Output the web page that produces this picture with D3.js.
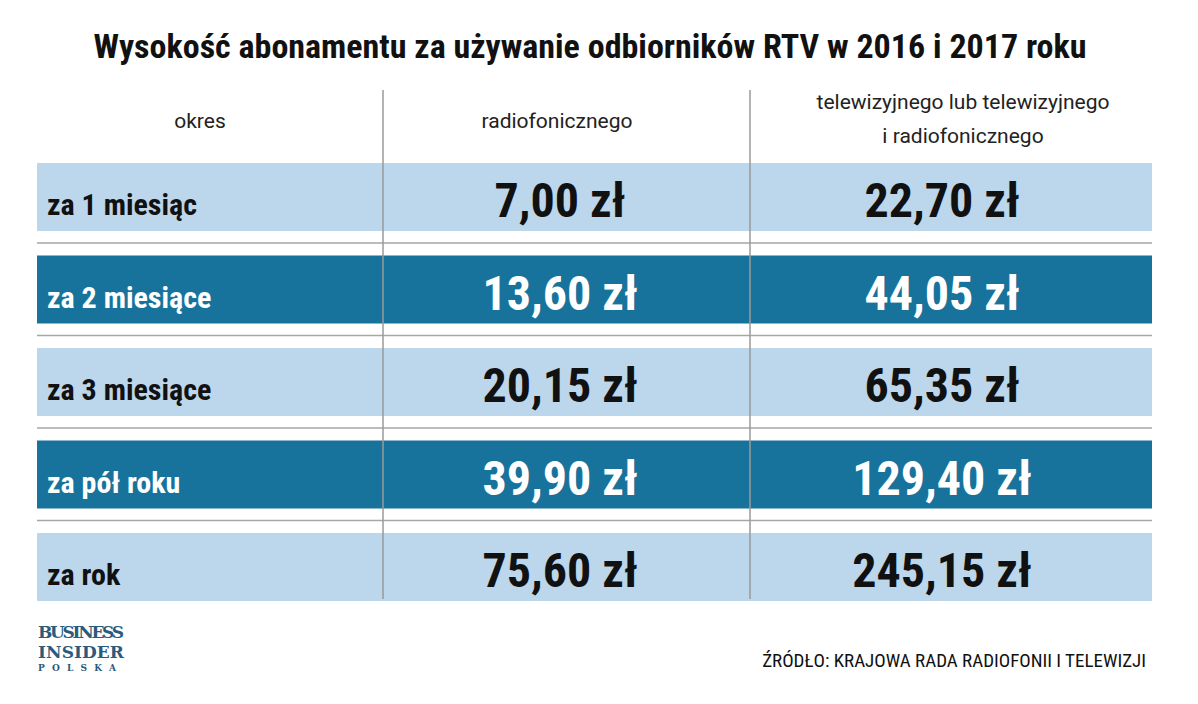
<!DOCTYPE html><html><head><meta charset="utf-8"><script src="https://d3js.org/d3.v7.min.js"></script>
<style>body{margin:0;background:#fff}</style></head><body><svg id="c" width="1198" height="704"></svg>
<script>
const title="Wysokość abonamentu za używanie odbiorników RTV w 2016 i 2017 roku";
const headers=["okres","radiofonicznego",["telewizyjnego lub telewizyjnego","i radiofonicznego"]];
const periods=["za 1 miesiąc","za 2 miesiące","za 3 miesiące","za pół roku","za rok"];
const radio=["7,00 zł","13,60 zł","20,15 zł","39,90 zł","75,60 zł"];
const tv=["22,70 zł","44,05 zł","65,35 zł","129,40 zł","245,15 zł"];
const svg=d3.select("#c");
const F="'Liberation Sans Narrow','Roboto Condensed','Roboto',sans-serif";
svg.append("text").attr("x",590).attr("y",58).attr("text-anchor","middle").attr("font-family",F).attr("font-weight","bold").attr("font-size",34).attr("fill","#111").text(title);
const rows=d3.range(periods.length);
const y=d3.scaleLinear().domain([0,1]).range([163,255.5]);
const rh=68;
rows.forEach(i=>{
  const dark=i%2==1;
  svg.append("rect").attr("x",37).attr("y",y(i)).attr("width",1115).attr("height",rh).attr("fill",dark?"#18739c":"#bcd6ec");
  if(i<periods.length-1) svg.append("line").attr("x1",37).attr("x2",1152).attr("y1",y(i)+80).attr("y2",y(i)+80).attr("stroke","#a6a6a6").attr("stroke-width",1.5);
  const c=dark?"#fff":"#111";
  svg.append("text").attr("x",47).attr("y",y(i)+52).attr("font-family",F).attr("font-weight","bold").attr("font-size",30).attr("fill",c).text(periods[i]);
  svg.append("text").attr("x",560).attr("y",y(i)+54).attr("text-anchor","middle").attr("font-family",F).attr("font-weight","bold").attr("font-size",48).attr("fill",c).text(radio[i]);
  svg.append("text").attr("x",942).attr("y",y(i)+54).attr("text-anchor","middle").attr("font-family",F).attr("font-weight","bold").attr("font-size",48).attr("fill",c).text(tv[i]);
});
[383,750].forEach(x=>svg.append("line").attr("x1",x).attr("x2",x).attr("y1",90).attr("y2",599).attr("stroke","#9a9a9a").attr("stroke-width",1.5));
const hf="'Roboto',sans-serif";
svg.append("text").attr("x",200).attr("y",128).attr("text-anchor","middle").attr("font-family",hf).attr("font-size",21).attr("fill","#222").text(headers[0]);
svg.append("text").attr("x",557).attr("y",128).attr("text-anchor","middle").attr("font-family",hf).attr("font-size",21).attr("fill","#222").text(headers[1]);
headers[2].forEach((t,k)=>svg.append("text").attr("x",963).attr("y",109+k*34).attr("text-anchor","middle").attr("font-family",hf).attr("font-size",21).attr("fill","#222").text(t));
svg.append("text").attr("x",1146).attr("y",667).attr("text-anchor","end").attr("font-family",F).attr("font-size",19).attr("fill","#111").text("ŹRÓDŁO: KRAJOWA RADA RADIOFONII I TELEWIZJI");
const lg=svg.append("g").attr("font-family","'DejaVu Serif','Liberation Serif',serif").attr("fill","#2a5a7c").attr("font-weight","bold");
lg.append("text").attr("x",38).attr("y",638).attr("font-size",17).text("BUSINESS").attr("textLength",86);
lg.append("text").attr("x",38).attr("y",658).attr("font-size",17).text("INSIDER").attr("textLength",86);
lg.append("text").attr("x",38).attr("y",671).attr("font-size",9).text("POLSKA").attr("textLength",86).attr("letter-spacing",8);
</script></body></html>
